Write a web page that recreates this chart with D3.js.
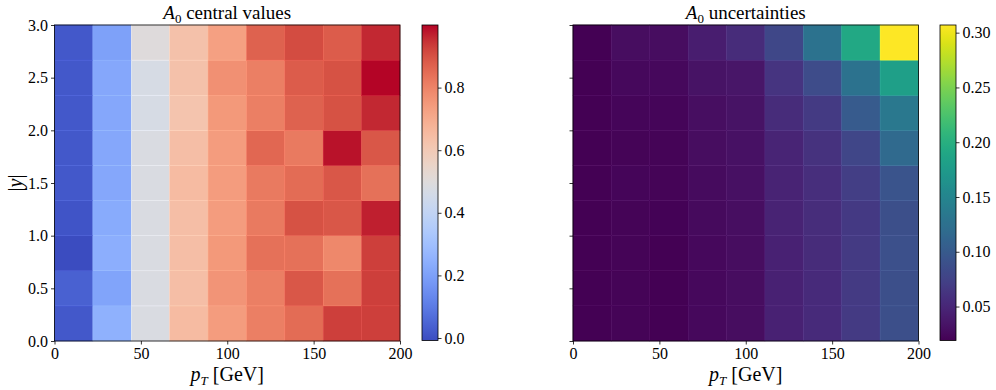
<!DOCTYPE html>
<html>
<head>
<meta charset="utf-8">
<script src="https://cdn.jsdelivr.net/npm/d3@7"></script>
<style>
  body { margin: 0; background: #fff; }
</style>
</head>
<body>
<svg id="chart" width="996" height="390" font-family="Liberation Serif"></svg>
<script>
// bins: 9 in pT (0..200 GeV), 9 in |y| (0..3)
var ptEdges = d3.range(10).map(i => i * 200 / 9);
var yEdges = d3.range(10).map(i => i * 3 / 9);

var xTicks = [0, 50, 100, 150, 200];
var yTicks = [0.0, 0.5, 1.0, 1.5, 2.0, 2.5, 3.0];
var cbTicksLeft = [0.0, 0.2, 0.4, 0.6, 0.8];
var cbTicksRight = [0.05, 0.10, 0.15, 0.20, 0.25, 0.30];

// rows ordered from |y| = 0 upwards, columns from pT = 0
var central = [
  [0.02, 0.25, 0.48, 0.65, 0.74, 0.81, 0.85, 0.93, 0.93],
  [0.04, 0.21, 0.48, 0.64, 0.76, 0.81, 0.89, 0.84, 0.93],
  [-0.008, 0.24, 0.48, 0.64, 0.75, 0.84, 0.84, 0.79, 0.93],
  [0.01, 0.23, 0.48, 0.64, 0.74, 0.82, 0.90, 0.89, 0.97],
  [0.02, 0.22, 0.48, 0.65, 0.74, 0.82, 0.85, 0.89, 0.84],
  [0.02, 0.22, 0.48, 0.64, 0.74, 0.86, 0.82, 0.985, 0.89],
  [0.02, 0.22, 0.47, 0.62, 0.75, 0.81, 0.87, 0.90, 0.96],
  [0.02, 0.22, 0.47, 0.63, 0.77, 0.81, 0.88, 0.90, 1.0],
  [0.02, 0.20, 0.50, 0.63, 0.73, 0.87, 0.91, 0.88, 0.96]
];

var uncert = [
  [0.019, 0.022, 0.019, 0.025, 0.028, 0.045, 0.053, 0.068, 0.088],
  [0.019, 0.022, 0.019, 0.025, 0.028, 0.045, 0.053, 0.068, 0.088],
  [0.019, 0.022, 0.019, 0.025, 0.029, 0.045, 0.054, 0.068, 0.089],
  [0.019, 0.022, 0.021, 0.026, 0.030, 0.046, 0.055, 0.067, 0.088],
  [0.019, 0.023, 0.022, 0.027, 0.031, 0.047, 0.057, 0.071, 0.094],
  [0.019, 0.022, 0.022, 0.028, 0.032, 0.048, 0.060, 0.079, 0.117],
  [0.019, 0.023, 0.023, 0.030, 0.033, 0.054, 0.068, 0.100, 0.134],
  [0.020, 0.025, 0.025, 0.033, 0.035, 0.062, 0.085, 0.128, 0.180],
  [0.020, 0.028, 0.028, 0.042, 0.054, 0.080, 0.128, 0.192, 0.307]
];

// matplotlib coolwarm, sampled
var coolwarmStops = ["#3b4cc0", "#4d68d7", "#6282ea", "#779af7", "#8db0fe", "#a3c2ff",
  "#b8d0f9", "#ccd9ee", "#dddddd", "#ecd3c5", "#f5c4ad", "#f7b194", "#f49a7b",
  "#ec7f63", "#de604d", "#cb3e38", "#b40426"];
var coolwarm = d3.interpolateRgbBasis(coolwarmStops);

var svg = d3.select("#chart");
var defs = svg.append("defs");

function styleAxis(a) {
  a.attr("font-family", null).attr("font-size", null);
  a.select(".domain").remove();
  a.selectAll("line").attr("stroke", "#000").attr("stroke-width", 0.8);
  a.selectAll("text").attr("font-size", 16).attr("fill", "#000");
}

function drawPanel(opt) {
  var data = opt.data;
  var flat = data.flat();
  var ext = d3.extent(flat);
  var color = d3.scaleSequential(opt.interp).domain(ext);

  var x = d3.scaleLinear().domain([0, 200]).range([opt.left, opt.right]);
  var y = d3.scaleLinear().domain([0, 3]).range([341, 25]);

  var g = svg.append("g");

  // cells
  var cells = [];
  data.forEach((row, i) => row.forEach((v, j) => cells.push({ i: i, j: j, v: v })));
  g.append("g")
    .selectAll("rect")
    .data(cells)
    .join("rect")
    .attr("x", d => x(ptEdges[d.j]))
    .attr("y", d => y(yEdges[d.i + 1]))
    .attr("width", d => x(ptEdges[d.j + 1]) - x(ptEdges[d.j]))
    .attr("height", d => y(yEdges[d.i]) - y(yEdges[d.i + 1]))
    .attr("fill", d => color(d.v))
    .attr("stroke", d => d3.color(color(d.v)).brighter(0.25))
    .attr("stroke-width", 0.5);

  // axes
  var xAxis = d3.axisBottom(x).tickValues(xTicks).tickSize(3.5).tickPadding(3).tickFormat(d3.format("d"));
  var gx = g.append("g").attr("transform", `translate(0,${y(0)})`).call(xAxis);
  var yAxis = d3.axisLeft(y).tickValues(yTicks).tickSize(3.5).tickPadding(3)
    .tickFormat(opt.showY ? d3.format(".1f") : "");
  var gy = g.append("g").attr("transform", `translate(${x(0)},0)`).call(yAxis);
  styleAxis(gx);
  styleAxis(gy);

  // frame
  g.append("rect")
    .attr("x", x(0)).attr("y", y(3))
    .attr("width", x(200) - x(0)).attr("height", y(0) - y(3))
    .attr("fill", "none").attr("stroke", "#000").attr("stroke-width", 0.8);

  // title
  var t = g.append("text")
    .attr("x", (x(0) + x(200)) / 2).attr("y", 19)
    .attr("text-anchor", "middle").attr("font-size", 19);
  t.append("tspan").attr("font-style", "italic").text("A");
  t.append("tspan").attr("dy", 4).attr("font-size", 13).text("0");
  t.append("tspan").attr("dy", -4).text(" " + opt.title);

  // x label
  var xl = g.append("text")
    .attr("x", (x(0) + x(200)) / 2).attr("y", 381)
    .attr("text-anchor", "middle").attr("font-size", 20);
  xl.append("tspan").attr("font-style", "italic").text("p");
  xl.append("tspan").attr("dy", 4).attr("font-size", 13).attr("font-style", "italic").text("T");
  xl.append("tspan").attr("dy", -4).text(" [GeV]");

  if (opt.showY) {
    var yl = g.append("text")
      .attr("transform", "translate(22,183) rotate(-90)")
      .attr("text-anchor", "middle").attr("font-size", 20);
    yl.append("tspan").text("|");
    yl.append("tspan").attr("font-style", "italic").text("y");
    yl.append("tspan").text("|");
  }

  // colorbar
  var cb = d3.scaleLinear().domain(ext).range([340.5, 25]);
  var gid = "grad" + opt.id;
  var grad = defs.append("linearGradient").attr("id", gid)
    .attr("x1", 0).attr("y1", 1).attr("x2", 0).attr("y2", 0);
  grad.selectAll("stop")
    .data(d3.range(0, 1.0001, 0.02))
    .join("stop")
    .attr("offset", d => d)
    .attr("stop-color", d => opt.interp(d));
  g.append("rect")
    .attr("x", opt.cbX).attr("y", 25).attr("width", 16).attr("height", 315.5)
    .attr("fill", `url(#${gid})`).attr("stroke", "#000").attr("stroke-width", 0.8);
  var cAxis = d3.axisRight(cb).tickValues(opt.cbTicks).tickSize(3.5).tickPadding(3)
    .tickFormat(d3.format(opt.cbFmt));
  var gc = g.append("g").attr("transform", `translate(${opt.cbX + 16},0)`).call(cAxis);
  styleAxis(gc);
}

drawPanel({
  id: "L", data: central, interp: coolwarm, left: 54.5, right: 400,
  title: "central values", showY: true, cbX: 422, cbTicks: cbTicksLeft, cbFmt: ".1f"
});
drawPanel({
  id: "R", data: uncert, interp: d3.interpolateViridis, left: 573, right: 918.5,
  title: "uncertainties", showY: false, cbX: 940, cbTicks: cbTicksRight, cbFmt: ".2f"
});
</script>
</body>
</html>
